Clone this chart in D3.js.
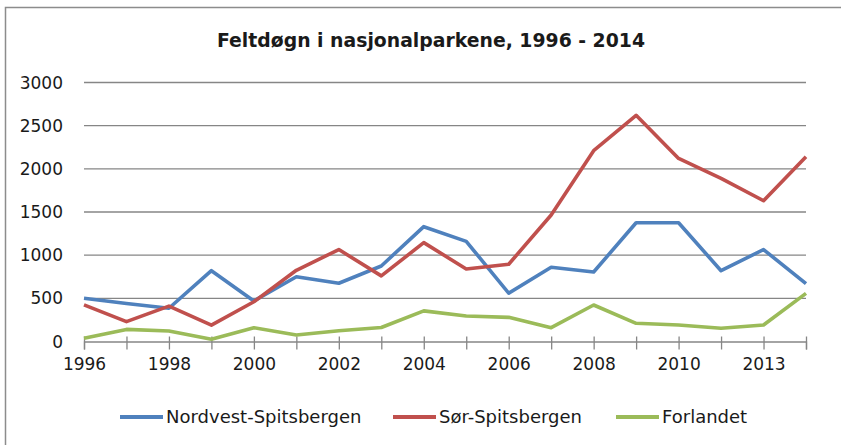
<!DOCTYPE html>
<html>
<head>
<meta charset="utf-8">
<script src="https://cdn.jsdelivr.net/npm/d3@7"></script>
<style>
    body { margin: 0; background: #fff; }
    text { font-family: "DejaVu Sans", Verdana, sans-serif; fill: #1a1a1a; }
</style>
</head>
<body>
<div id="chart"></div>
<script>
    var years = ["1996", "1997", "1998", "1999", "2000", "2001", "2002", "2003", "2004",
        "2005", "2006", "2007", "2008", "2009", "2010", "2011", "2013", "2014"];
    var nordvest = [500, 440, 385, 820, 470, 750, 675, 875, 1330, 1160, 560, 860, 805, 1375, 1375, 820, 1065, 670];
    var sor = [425, 230, 410, 190, 460, 825, 1065, 760, 1145, 840, 895, 1465, 2210, 2620, 2120, 1890, 1630, 2140];
    var forlandet = [37, 140, 122, 25, 160, 75, 125, 162, 355, 295, 280, 160, 423, 211, 191, 153, 191, 558];
    var yTicks = [0, 500, 1000, 1500, 2000, 2500, 3000];

    var series = [
        { name: "Nordvest-Spitsbergen", values: nordvest, color: "#4f81bd" },
        { name: "Sør-Spitsbergen", values: sor, color: "#c0504d" },
        { name: "Forlandet", values: forlandet, color: "#9bbb59" }
    ];

    var width = 841, height = 445;

    var svg = d3.select("#chart")
        .append("svg")
        .attr("width", width)
        .attr("height", height);

    // chart frame (only top and left edges are visible in the picture)
    svg.append("rect")
        .attr("x", 5.5)
        .attr("y", 7.5)
        .attr("width", 900)
        .attr("height", 500)
        .attr("fill", "none")
        .attr("stroke", "#8c8c8c")
        .attr("stroke-width", 1.5);

    var x = d3.scalePoint()
        .domain(years)
        .range([84, 806]);

    var y = d3.scaleLinear()
        .domain([0, 3000])
        .range([341.5, 82.5]);

    // gridlines
    svg.append("g")
        .selectAll("line")
        .data(yTicks.slice(1))
        .enter()
        .append("line")
        .attr("x1", 84)
        .attr("x2", 806)
        .attr("y1", function (d) { return y(d); })
        .attr("y2", function (d) { return y(d); })
        .attr("stroke", "#868686")
        .attr("stroke-width", 1.3);

    // y labels
    svg.append("g")
        .selectAll("text")
        .data(yTicks)
        .enter()
        .append("text")
        .attr("x", 63)
        .attr("y", function (d) { return y(d); })
        .attr("dy", "0.36em")
        .attr("text-anchor", "end")
        .style("font-size", "17px")
        .text(function (d) { return d; });

    // x axis
    var xAxis = svg.append("g")
        .attr("transform", "translate(0," + y(0) + ")")
        .call(d3.axisBottom(x)
            .tickSize(8)
            .tickFormat(function (d, i) { return i % 2 === 0 ? d : ""; }));

    xAxis.select(".domain")
        .attr("stroke", "#868686")
        .attr("stroke-width", 1.3);
    xAxis.selectAll(".tick line")
        .attr("y1", -5)
        .attr("y2", 8)
        .attr("stroke", "#868686")
        .attr("stroke-width", 1.3);
    xAxis.selectAll(".tick text")
        .attr("y", 22)
        .attr("dy", "0.36em")
        .style("font-size", "17px")
        .attr("fill", "#1a1a1a");

    // lines
    var line = d3.line()
        .x(function (d, i) { return x(years[i]); })
        .y(function (d) { return y(d); });

    svg.append("g")
        .selectAll("path")
        .data(series)
        .enter()
        .append("path")
        .attr("d", function (d) { return line(d.values); })
        .attr("fill", "none")
        .attr("stroke", function (d) { return d.color; })
        .attr("stroke-width", 3.6)
        .attr("stroke-linejoin", "round");

    // title
    svg.append("text")
        .attr("x", 431)
        .attr("y", 47)
        .attr("text-anchor", "middle")
        .style("font-size", "20px")
        .style("font-weight", "bold")
        .attr("textLength", 428)
        .attr("lengthAdjust", "spacingAndGlyphs")
        .text("Feltdøgn i nasjonalparkene, 1996 - 2014");

    // legend
    var legendX = [120, 393, 616];
    var legend = svg.append("g")
        .selectAll("g")
        .data(series)
        .enter()
        .append("g")
        .attr("transform", function (d, i) { return "translate(" + legendX[i] + ",417)"; });

    legend.append("line")
        .attr("x1", 0)
        .attr("x2", 43)
        .attr("stroke", function (d) { return d.color; })
        .attr("stroke-width", 4);

    legend.append("text")
        .attr("x", 46)
        .attr("dy", "0.36em")
        .style("font-size", "18px")
        .text(function (d) { return d.name; });
</script>
</body>
</html>
